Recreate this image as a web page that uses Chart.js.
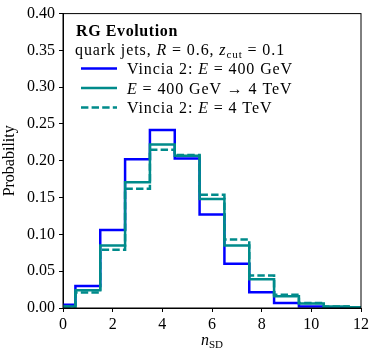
<!DOCTYPE html>
<html>
<head>
<meta charset="utf-8">
<script src="https://cdn.jsdelivr.net/npm/chart.js@4"></script>
<style>
  body { margin: 0; background: #fff; }
  #wrap { width: 374px; height: 357px; }
</style>
</head>
<body>
<div id="wrap"><canvas id="myChart" width="374" height="357"></canvas></div>
<script>
// n_SD bins (centres) and probabilities
const nsd = [0, 1, 2, 3, 4, 5, 6, 7, 8, 9, 10, 11, 12];
const vincia400 = [0.0045, 0.030, 0.106, 0.202, 0.242, 0.203, 0.127, 0.060, 0.0215, 0.0068, 0.002, 0, 0];
const evolved = [0.002, 0.024, 0.085, 0.171, 0.222, 0.207, 0.148, 0.085, 0.039, 0.0158, 0.0062, 0.002, 0.001];
const vincia4 = [0.002, 0.021, 0.079, 0.162, 0.215, 0.208, 0.154, 0.093, 0.044, 0.018, 0.0068, 0.0022, 0.001];
const xTicks = [0, 2, 4, 6, 8, 10, 12];
const yTicks = [0, 0.05, 0.10, 0.15, 0.20, 0.25, 0.30, 0.35, 0.40];

const BLUE = '#0000ff';
const TEAL = '#008b8b';
const SERIF = '"Liberation Serif", "DejaVu Serif", serif';
const FS = 16;

function toPoints(values) {
    return nsd.map((x, i) => ({ x: x, y: values[i] }));
}

// draws a run of text pieces with roman / italic / bold / subscript styles
function drawRich(ctx, x, y, parts, spacing) {
    ctx.textBaseline = 'alphabetic';
    ctx.textAlign = 'left';
    ctx.letterSpacing = spacing || '0px';
    parts.forEach(p => {
        let dy = 0;
        if (p.s === 'i') ctx.font = `italic ${FS}px ${SERIF}`;
        else if (p.s === 'b') ctx.font = `bold ${FS}px ${SERIF}`;
        else if (p.s === 'sub') { ctx.font = `${Math.round(FS * 0.7)}px ${SERIF}`; dy = 3; }
        else ctx.font = `${FS}px ${SERIF}`;
        ctx.fillText(p.t, x, y + dy);
        x += ctx.measureText(p.t).width;
    });
    ctx.letterSpacing = '0px';
    return x;
}

const legendRows = [
    [{ t: 'Vincia 2: ' }, { t: 'E', s: 'i' }, { t: ' = 400 GeV' }],
    [{ t: 'E', s: 'i' }, { t: ' = 400 GeV \u2192 4 TeV' }],
    [{ t: 'Vincia 2: ' }, { t: 'E', s: 'i' }, { t: ' = 4 TeV' }]
];

const decorPlugin = {
    id: 'decor',
    afterDraw(chart) {
        const ctx = chart.ctx;
        const a = chart.chartArea;
        ctx.save();
        // frame
        ctx.strokeStyle = '#000';
        ctx.lineWidth = 1;
        ctx.strokeRect(a.left, a.top, a.right - a.left, a.bottom - a.top);

        ctx.fillStyle = '#000';
        // legend header
        drawRich(ctx, 76, 35.5, [{ t: 'RG Evolution', s: 'b' }], '0.6px');
        drawRich(ctx, 75, 54.5, [
            { t: 'quark jets, ' }, { t: 'R', s: 'i' }, { t: ' = 0.6, ' },
            { t: 'z', s: 'i' }, { t: 'cut', s: 'sub' }, { t: ' = 0.1' }
        ], '0.9px');
        // legend entries
        const rowY = [68.5, 88, 107.5];
        chart.data.datasets.forEach((ds, i) => {
            ctx.save();
            ctx.strokeStyle = ds.borderColor;
            ctx.lineWidth = ds.borderWidth;
            ctx.setLineDash(ds.borderDash || []);
            ctx.beginPath();
            ctx.moveTo(81, rowY[i]);
            ctx.lineTo(117, rowY[i]);
            ctx.stroke();
            ctx.restore();
            ctx.fillStyle = '#000';
            drawRich(ctx, 127, rowY[i] + 5.5, legendRows[i], '0.9px');
        });

        // axis titles
        ctx.font = `${FS}px ${SERIF}`;
        ctx.save();
        ctx.translate(10, (a.top + a.bottom) / 2);
        ctx.rotate(-Math.PI / 2);
        ctx.textAlign = 'center';
        ctx.textBaseline = 'middle';
        ctx.fillText('Probability', 0, 0);
        ctx.restore();

        ctx.font = `italic ${FS}px ${SERIF}`;
        const nW = ctx.measureText('n').width;
        ctx.font = `${Math.round(FS * 0.7)}px ${SERIF}`;
        const sW = ctx.measureText('SD').width;
        const cx = (a.left + a.right) / 2;
        drawRich(ctx, cx - (nW + sW) / 2, 345, [{ t: 'n', s: 'i' }, { t: 'SD', s: 'sub' }]);
        ctx.restore();
    }
};

new Chart(document.getElementById('myChart'), {
    type: 'line',
    data: {
        datasets: [
            { label: 'Vincia 2: E = 400 GeV', data: toPoints(vincia400), borderColor: BLUE, borderWidth: 2.5, order: 3 },
            { label: 'E = 400 GeV -> 4 TeV', data: toPoints(evolved), borderColor: TEAL, borderWidth: 2.5, order: 2 },
            { label: 'Vincia 2: E = 4 TeV', data: toPoints(vincia4), borderColor: TEAL, borderWidth: 2.5, borderDash: [7.4, 3.2], order: 1 }
        ]
    },
    options: {
        responsive: false,
        animation: false,
        devicePixelRatio: 1,
        layout: { padding: { top: 11, right: 13, left: 0, bottom: 0 } },
        elements: {
            line: { stepped: 'middle', tension: 0, fill: false },
            point: { radius: 0 }
        },
        scales: {
            x: {
                type: 'linear',
                min: 0,
                max: 12,
                afterFit: s => { s.height = 49; },
                afterBuildTicks: s => { s.ticks = xTicks.map(v => ({ value: v })); },
                grid: { drawOnChartArea: false, drawTicks: true, tickLength: 4, color: '#000' },
                border: { color: '#000' },
                ticks: { color: '#000', padding: 3, maxRotation: 0, font: { family: SERIF, size: FS } }
            },
            y: {
                min: 0,
                max: 0.4,
                afterFit: s => { s.width = 63; },
                afterBuildTicks: s => { s.ticks = yTicks.map(v => ({ value: v })); },
                grid: { drawOnChartArea: false, drawTicks: true, tickLength: 4, color: '#000' },
                border: { color: '#000' },
                ticks: { color: '#000', padding: 4, font: { family: SERIF, size: FS }, callback: v => v.toFixed(2) }
            }
        },
        plugins: {
            legend: { display: false },
            tooltip: { enabled: false }
        }
    },
    plugins: [decorPlugin]
});
</script>
</body>
</html>
